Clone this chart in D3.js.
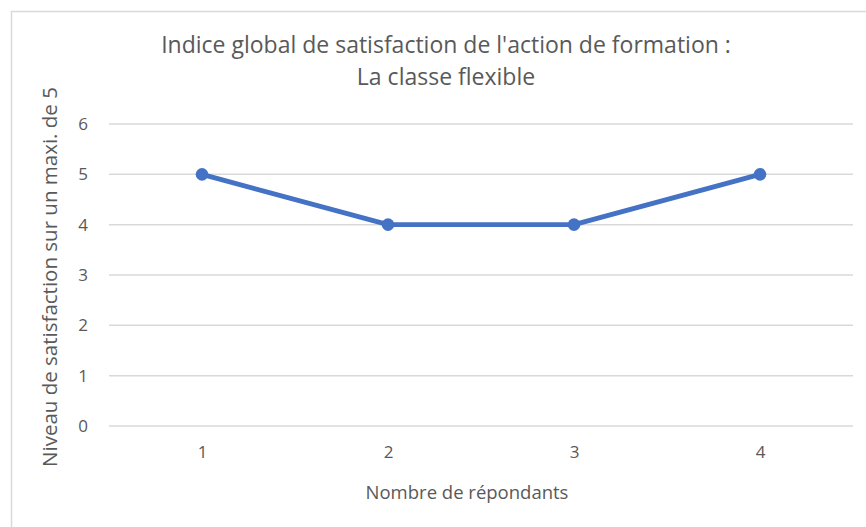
<!DOCTYPE html>
<head>
<meta charset="utf-8">
<style>
body, html {
  margin: 0;
  background: #fff;
  font-family: "Open Sans", sans-serif;
}
.grid line {
  stroke: #d9d9d9;
  stroke-width: 1.5;
}
</style>
<script src="https://d3js.org/d3.v7.min.js"></script>
</head>
<body>
<script>

// values
var respondents = ["1", "2", "3", "4"];
var scores = [5, 4, 4, 5];
var yTicks = [0, 1, 2, 3, 4, 5, 6];
var titleLines = ["Indice global de satisfaction de l'action de formation :", "La classe flexible"];
var xTitle = "Nombre de répondants";
var yTitle = "Niveau de satisfaction sur un maxi. de 5";

var width = 866,
    height = 527,
    textColor = "#595959";

var svg = d3.select("body").append("svg")
    .attr("width", width)
    .attr("height", height);

// chart frame
svg.append("rect")
    .attr("x", 11.5).attr("y", 11.5)
    .attr("width", 860).attr("height", 520)
    .attr("fill", "#fff")
    .attr("stroke", "#d9d9d9")
    .attr("stroke-width", 1.5);

var x = d3.scalePoint()
    .domain(respondents)
    .range([109, 853])
    .padding(0.5);

var y = d3.scaleLinear()
    .domain([0, 6])
    .range([426, 124]);

// gridlines
svg.append("g").attr("class", "grid")
  .selectAll("line")
  .data(yTicks)
  .enter().append("line")
    .attr("x1", 109).attr("x2", 853)
    .attr("y1", d => y(d)).attr("y2", d => y(d));

// y tick labels
svg.append("g")
    .attr("transform", "translate(94,0)")
    .attr("font-size", 17)
    .attr("font-family", "'Open Sans', sans-serif")
    .call(d3.axisLeft(y).tickValues(yTicks).tickFormat(d3.format("d")).tickSize(0).tickPadding(6))
    .call(g => g.attr("font-size", 17).attr("font-family", "'Open Sans', sans-serif"))
    .call(g => g.select(".domain").remove())
    .selectAll("text")
    .attr("fill", textColor);

// x tick labels
svg.append("g")
    .attr("transform", "translate(0,442)")
    .call(d3.axisBottom(x).tickSize(0).tickPadding(4))
    .call(g => g.attr("font-size", 17).attr("font-family", "'Open Sans', sans-serif"))
    .call(g => g.select(".domain").remove())
    .selectAll("text")
    .attr("fill", textColor);

// series
var line = d3.line()
    .x((d, i) => x(respondents[i]))
    .y(d => y(d));

svg.append("path")
    .datum(scores)
    .attr("fill", "none")
    .attr("stroke", "#4472c4")
    .attr("stroke-width", 4.8)
    .attr("stroke-linejoin", "round")
    .attr("d", line);

svg.selectAll("circle.pt")
    .data(scores)
    .enter().append("circle")
    .attr("class", "pt")
    .attr("cx", (d, i) => x(respondents[i]))
    .attr("cy", d => y(d))
    .attr("r", 6.3)
    .attr("fill", "#4472c4");

// titles
svg.selectAll("text.title")
    .data(titleLines)
    .enter().append("text")
    .attr("class", "title")
    .attr("x", 446)
    .attr("y", (d, i) => 53 + i * 32)
    .attr("text-anchor", "middle")
    .attr("fill", textColor)
    .style("font-size", "23px")
    .text(d => d);

svg.append("text")
    .attr("x", 467)
    .attr("y", 499)
    .attr("text-anchor", "middle")
    .attr("fill", textColor)
    .style("font-size", "18.5px")
    .text(xTitle);

svg.append("text")
    .attr("transform", "translate(57,277) rotate(-90)")
    .attr("text-anchor", "middle")
    .attr("fill", textColor)
    .style("font-size", "20.5px")
    .text(yTitle);

</script>
</body>
</html>
